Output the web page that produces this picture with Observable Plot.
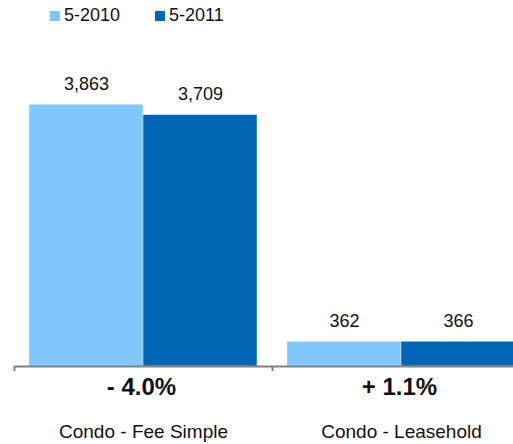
<!DOCTYPE html>
<html>
<head>
<meta charset="utf-8">
<script src="https://cdn.jsdelivr.net/npm/d3@7"></script>
<script src="https://cdn.jsdelivr.net/npm/@observablehq/plot@0.6"></script>
<style>
  html, body { margin: 0; padding: 0; background: #fff; overflow: hidden; width: 513px; height: 444px; }
  body { font-family: "Liberation Sans", Arial, Helvetica, sans-serif; }
  #legend { height: 34px; position: relative; font-size: 18px; color: #111; }
  .item { position: absolute; top: 5px; display: flex; align-items: center; }
  .sw { width: 10px; height: 10px; margin-right: 4px; }
  svg { display: block; overflow: visible; max-width: none !important; }
</style>
</head>
<body>
<div id="legend"></div>
<div id="chart"></div>
<script>
const categories = ["Condo - Fee Simple", "Condo - Leasehold"];
const years = ["5-2010", "5-2011"];
const values2010 = [3863, 362];
const values2011 = [3709, 366];
const changes = ["- 4.0%", "+ 1.1%"];
const colors = ["#80C7FF", "#0066B3"];

const data = [];
categories.forEach((c, i) => {
  data.push({category: c, year: years[0], value: values2010[i]});
  data.push({category: c, year: years[1], value: values2011[i]});
});
const labels = categories.map((c, i) => ({category: c, change: changes[i]}));

// legend
const legend = document.getElementById("legend");
const legendX = [50, 155];
years.forEach((y, i) => {
  const it = document.createElement("div");
  it.className = "item";
  it.style.left = legendX[i] + "px";
  it.innerHTML = `<span class="sw" style="background:${colors[i]}"></span><span>${y}</span>`;
  legend.appendChild(it);
});

const plot = Plot.plot({
  width: 530,
  height: 410,
  marginLeft: 14,
  marginRight: 0,
  marginTop: 61,
  marginBottom: 78,
  style: {fontFamily: '"Liberation Sans", Arial, Helvetica, sans-serif', background: "transparent", overflow: "visible", maxWidth: "none"},
  fx: {domain: categories, paddingInner: 0, paddingOuter: 0, label: null, axis: null},
  x: {domain: years, paddingInner: 0, paddingOuter: 0.127, axis: null},
  y: {domain: [0, 4000], axis: null},
  color: {domain: years, range: colors},
  marks: [
    Plot.barY(data, {fx: "category", x: "year", y: "value", fill: "year", stroke: "#d8ecff", strokeWidth: 0.5}),
    Plot.text(data, {fx: "category", x: "year", y: "value", text: d => d3.format(",")(d.value), dy: -15, lineAnchor: "bottom", fontSize: 18, fill: "#111"}),
    Plot.ruleY([0], {stroke: "#808080", strokeWidth: 2}),
    Plot.axisFx({anchor: "bottom", tickSize: 5, dx: -129, tickFormat: () => "", label: null, stroke: "#808080", strokeWidth: 2}),
    Plot.text(labels, {fx: "category", text: "change", frameAnchor: "bottom", dy: 21, dx: -2, lineAnchor: "middle", fontSize: 24, fontWeight: "bold", fill: "#111"}),
    Plot.text(labels, {fx: "category", text: "category", frameAnchor: "bottom", dy: 65, lineAnchor: "middle", fontSize: 19, fill: "#111"})
  ]
});
document.getElementById("chart").appendChild(plot);
</script>
</body>
</html>
